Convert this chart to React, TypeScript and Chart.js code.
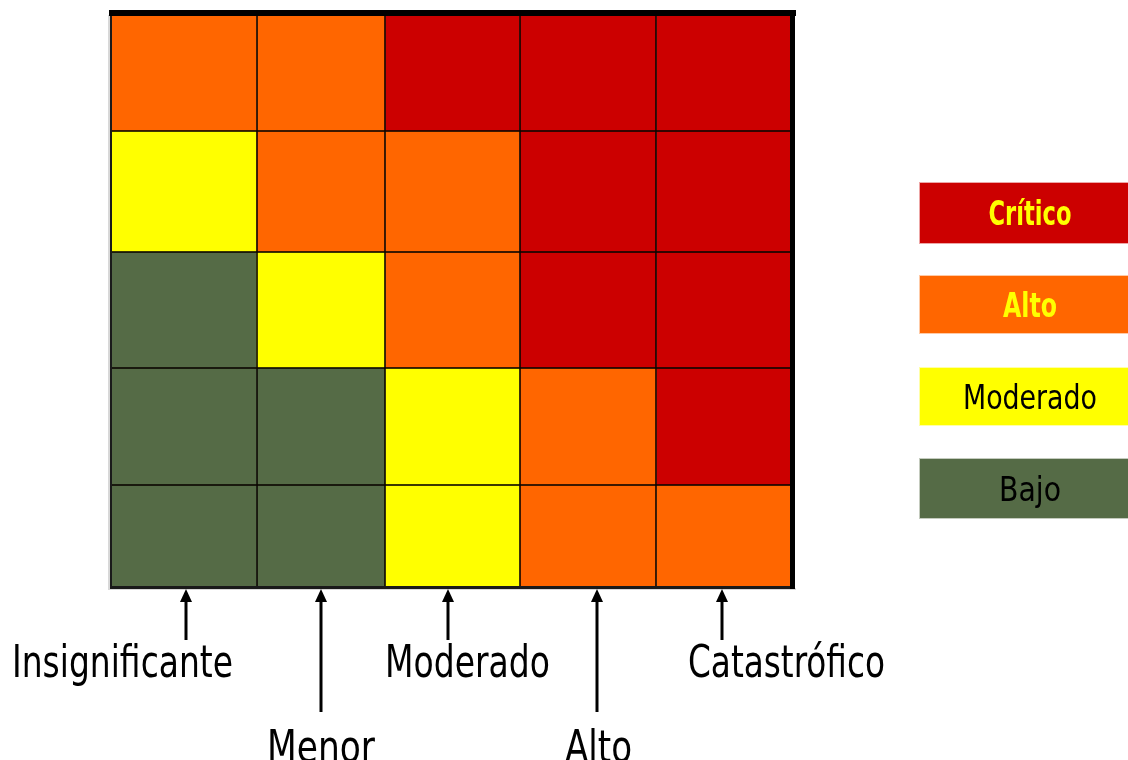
import { useEffect, useRef } from "react";
import { Chart, registerables } from "chart.js";

Chart.register(...registerables);

// ---------- DATA ----------
const IMPACT_LABELS = ["Insignificante", "Menor", "Moderado", "Alto", "Catastrófico"];
const PROBABILITY_ROWS = ["Muy alta", "Alta", "Media", "Baja", "Muy baja"]; // top -> bottom
const RISK_LEVELS = ["Crítico", "Alto", "Moderado", "Bajo"];
const RISK_MATRIX = [
  ["Alto", "Alto", "Crítico", "Crítico", "Crítico"],
  ["Moderado", "Alto", "Alto", "Crítico", "Crítico"],
  ["Bajo", "Moderado", "Alto", "Crítico", "Crítico"],
  ["Bajo", "Bajo", "Moderado", "Alto", "Crítico"],
  ["Bajo", "Bajo", "Moderado", "Alto", "Alto"],
];

// ---------- LAYOUT / STYLE ----------
const COL_SPANS = [146, 129, 135, 137, 135];
const ROW_SPANS = [116, 121, 116, 117, 102];
const LEVEL_COLORS: Record<string, string> = {
  "Crítico": "#CC0000",
  "Alto": "#FF6600",
  "Moderado": "#FFFF00",
  "Bajo": "#556B46",
};
const LEVEL_TEXT: Record<string, { color: string; bold: boolean }> = {
  "Crítico": { color: "#FFFF00", bold: true },
  "Alto": { color: "#FFFF00", bold: true },
  "Moderado": { color: "#000000", bold: false },
  "Bajo": { color: "#000000", bold: false },
};
const LEGEND_TOPS = [183, 276, 368, 459];
const LEGEND_HEIGHTS = [60, 57, 57, 59];
const LEGEND_TEXT_W = [83, 54, 134, 62];
// label layout: [textLeft, baseline, arrowBottom, targetWidth]
const LABEL_LAYOUT = [
  [12, 677, 640, 221],
  [267, 762, 712, 108],
  [385, 677, 640, 165],
  [565, 762, 712, 67],
  [688, 677, 640, 197],
];

const FONT = '"Liberation Sans Narrow", "Arial Narrow", "DejaVu Sans Condensed", sans-serif';

const sum = (a: number[]) => a.reduce((s, v) => s + v, 0);
const edges = (a: number[]) => {
  const e = [0];
  a.forEach((v) => e.push(e[e.length - 1] + v));
  return e;
};

function fitText(ctx: CanvasRenderingContext2D, text: string, x: number, y: number, w: number) {
  const m = ctx.measureText(text).width;
  const sx = w / m;
  ctx.save();
  ctx.translate(x, y);
  ctx.scale(sx, 1);
  ctx.fillText(text, 0, 0);
  ctx.restore();
}

const heatmapPlugin = {
  id: "riskHeatmap",
  beforeDatasetsDraw(chart: any) {
    const { ctx, scales } = chart;
    const xs = scales.x;
    const ys = scales.y;
    const xe = edges(COL_SPANS);
    const ye = edges(ROW_SPANS);
    ctx.save();
    RISK_MATRIX.forEach((row, r) => {
      row.forEach((lvl, c) => {
        const x0 = xs.getPixelForValue(xe[c]);
        const x1 = xs.getPixelForValue(xe[c + 1]);
        const y0 = ys.getPixelForValue(ye[r]);
        const y1 = ys.getPixelForValue(ye[r + 1]);
        ctx.fillStyle = LEVEL_COLORS[lvl];
        ctx.fillRect(x0, y0, x1 - x0, y1 - y0);
      });
    });
    // inner grid lines
    ctx.strokeStyle = "rgba(10,5,0,0.8)";
    ctx.lineWidth = 2;
    const L = xs.getPixelForValue(0);
    const R = xs.getPixelForValue(sum(COL_SPANS));
    const T = ys.getPixelForValue(0);
    const B = ys.getPixelForValue(sum(ROW_SPANS));
    for (let c = 1; c < xe.length - 1; c++) {
      const x = Math.round(xs.getPixelForValue(xe[c]));
      ctx.beginPath();
      ctx.moveTo(x, T);
      ctx.lineTo(x, B);
      ctx.stroke();
    }
    for (let r = 1; r < ye.length - 1; r++) {
      const y = Math.round(ys.getPixelForValue(ye[r]));
      ctx.beginPath();
      ctx.moveTo(L, y);
      ctx.lineTo(R, y);
      ctx.stroke();
    }
    // outer borders
    ctx.fillStyle = "#d8d8d8";
    ctx.fillRect(L - 3, T, 2, B - T + 3);
    ctx.fillRect(L - 3, B + 1, R - L + 8, 2);
    ctx.fillStyle = "#1a1a1a";
    ctx.fillRect(L - 1, T - 4, 2, B - T + 5);
    ctx.fillRect(L - 1, B - 1, R - L + 2, 3);
    ctx.fillStyle = "#000";
    ctx.fillRect(L - 2, T - 5, R - L + 7, 6);
    ctx.fillRect(R - 1, T - 5, 5, B - T + 7);
    ctx.restore();
  },
  afterDraw(chart: any) {
    const { ctx, scales } = chart;
    const xs = scales.x;
    const xe = edges(COL_SPANS);
    ctx.save();
    // legend boxes
    RISK_LEVELS.forEach((lvl, i) => {
      const top = LEGEND_TOPS[i];
      const h = LEGEND_HEIGHTS[i];
      ctx.fillStyle = LEVEL_COLORS[lvl];
      ctx.globalAlpha = 0.35;
      ctx.fillRect(919, top - 1, 220, h + 2);
      ctx.globalAlpha = 1;
      ctx.fillRect(920, top, 220, h);
      const st = LEVEL_TEXT[lvl];
      ctx.fillStyle = st.color;
      ctx.font = `${st.bold ? "bold " : ""}34px ${FONT}`;
      ctx.textBaseline = "alphabetic";
      ctx.textAlign = "left";
      const w = LEGEND_TEXT_W[i];
      fitText(ctx, lvl, 1030 - w / 2, top + h / 2 + 12, w);
    });
    // impact labels with arrows
    IMPACT_LABELS.forEach((lab, i) => {
      const [tx, base, arrowBottom, tw] = LABEL_LAYOUT[i];
      const c0 = xs.getPixelForValue(xe[i]);
      const c1 = xs.getPixelForValue(xe[i + 1]);
      const ax = Math.round(c0 + (c1 - c0) / 2 + (i === 0 ? 2 : i === 2 ? -4 : i === 3 ? 9 : i === 4 ? -2 : 0));
      ctx.strokeStyle = "#000";
      ctx.lineWidth = 3;
      ctx.beginPath();
      ctx.moveTo(ax, 598);
      ctx.lineTo(ax, arrowBottom);
      ctx.stroke();
      ctx.fillStyle = "#000";
      ctx.beginPath();
      ctx.moveTo(ax, 589);
      ctx.lineTo(ax - 6, 602);
      ctx.lineTo(ax + 6, 602);
      ctx.closePath();
      ctx.fill();
      ctx.font = `44px ${FONT}`;
      ctx.textAlign = "left";
      ctx.textBaseline = "alphabetic";
      fitText(ctx, lab, tx, base, tw);
    });
    ctx.restore();
  },
};

export default function App() {
  const ref = useRef<HTMLCanvasElement | null>(null);
  useEffect(() => {
    if (!ref.current) return;
    const xe = edges(COL_SPANS);
    const ye = edges(ROW_SPANS);
    const points: { x: number; y: number }[] = [];
    RISK_MATRIX.forEach((row, r) =>
      row.forEach((_, c) => points.push({ x: (xe[c] + xe[c + 1]) / 2, y: (ye[r] + ye[r + 1]) / 2 }))
    );
    const chart = new Chart(ref.current, {
      type: "scatter",
      data: {
        datasets: [{ label: PROBABILITY_ROWS.join(","), data: points, pointRadius: 0, showLine: false }],
      },
      options: {
        animation: false,
        responsive: false,
        maintainAspectRatio: false,
        events: [],
        layout: { padding: { left: 111, right: 1128 - 791, top: 15, bottom: 760 - 587 } },
        plugins: { legend: { display: false }, tooltip: { enabled: false }, title: { display: false } },
        scales: {
          x: { type: "linear", min: 0, max: sum(COL_SPANS), display: false },
          y: { type: "linear", min: 0, max: sum(ROW_SPANS), reverse: true, display: false },
        },
      },
      plugins: [heatmapPlugin],
    });
    return () => chart.destroy();
  }, []);
  return (
    <div style={{ position: "fixed", left: 0, top: 0, width: 1128, height: 760, background: "#fff" }}>
      <canvas ref={ref} width={1128} height={760} style={{ width: 1128, height: 760, display: "block" }} />
    </div>
  );
}
